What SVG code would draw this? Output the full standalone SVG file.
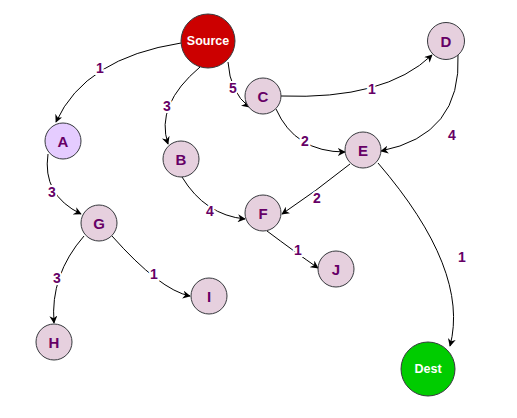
<svg xmlns="http://www.w3.org/2000/svg" width="517" height="418" viewBox="0 0 517 418">
  <style>
    .node { fill: #e6d0de; stroke: #36393d; stroke-width: 1; }
    .node-a { fill: #e5ccff; }
    .src { fill: #cc0000; stroke: #36393d; stroke-width: 1; }
    .dst { fill: #00cc00; stroke: #36393d; stroke-width: 1; }
    .name { font-family: "Liberation Sans", Arial, sans-serif; font-weight: bold; font-size: 15px; fill: #660066; text-anchor: middle; dominant-baseline: central; }
    .name-w { font-family: "Liberation Sans", Arial, sans-serif; font-weight: bold; font-size: 12.5px; fill: #ffffff; text-anchor: middle; dominant-baseline: central; }
    .edge { fill: none; stroke: #000000; stroke-width: 1; marker-end: url(#arrow); }
    .w { font-family: "Liberation Sans", Arial, sans-serif; font-weight: bold; font-size: 14px; fill: #660066; text-anchor: middle; dominant-baseline: central; stroke: #ffffff; stroke-width: 4; paint-order: stroke; }
  </style>
  <defs>
    <marker id="arrow" viewBox="0 0 10 10" refX="9" refY="5" markerWidth="8" markerHeight="8" markerUnits="userSpaceOnUse" orient="auto">
      <path d="M0,0 L10,5 L0,10 L3,5 Z" fill="#000000"/>
    </marker>
  </defs>
  <rect width="517" height="418" fill="#ffffff"/>

  <g id="connectors">
    <path class="edge" d="M181,43 Q85,58 56,122"/>
    <path class="edge" d="M200,67 Q155,105 168,144"/>
    <path class="edge" d="M228,62 Q230,92 249,107"/>
    <path class="edge" d="M281,96 Q385,100 432,55"/>
    <path class="edge" d="M276,109 Q295,152 345,152"/>
    <path class="edge" d="M458,54 Q462,135 381,151"/>
    <path class="edge" d="M350,164 Q315,192 282,214"/>
    <path class="edge" d="M378,163 Q470,270 450,346"/>
    <path class="edge" d="M267,231 Q295,252 318,268"/>
    <path class="edge" d="M182,177 Q205,215 245,219"/>
    <path class="edge" d="M48,154 Q42,195 81,214"/>
    <path class="edge" d="M84,236 Q50,275 54,323"/>
    <path class="edge" d="M112,236 Q160,290 190,296"/>

    <text class="w" x="100" y="68">1</text>
    <text class="w" x="167" y="106">3</text>
    <text class="w" x="233" y="88">5</text>
    <text class="w" x="372" y="89">1</text>
    <text class="w" x="305" y="141">2</text>
    <text class="w" x="452" y="135">4</text>
    <text class="w" x="317" y="198">2</text>
    <text class="w" x="462" y="257">1</text>
    <text class="w" x="298" y="250">1</text>
    <text class="w" x="210" y="211">4</text>
    <text class="w" x="52" y="192">3</text>
    <text class="w" x="57" y="278">3</text>
    <text class="w" x="154" y="274">1</text>
  </g>

  <g id="node-source"><circle class="src" cx="208" cy="41" r="27"/><text class="name-w" x="208" y="41">Source</text></g>
  <g id="node-a"><circle class="node node-a" cx="63" cy="141" r="18"/><text class="name" x="63" y="141">A</text></g>
  <g id="node-b"><circle class="node" cx="181" cy="159" r="18"/><text class="name" x="181" y="159">B</text></g>
  <g id="node-c"><circle class="node" cx="263" cy="96" r="18"/><text class="name" x="263" y="96">C</text></g>
  <g id="node-d"><circle class="node" cx="446" cy="41" r="18.5"/><text class="name" x="446" y="41">D</text></g>
  <g id="node-e"><circle class="node" cx="363" cy="150" r="18"/><text class="name" x="363" y="150">E</text></g>
  <g id="node-f"><circle class="node" cx="263" cy="213" r="18"/><text class="name" x="263" y="213">F</text></g>
  <g id="node-g"><circle class="node" cx="99" cy="223" r="18"/><text class="name" x="99" y="223">G</text></g>
  <g id="node-h"><circle class="node" cx="54" cy="342" r="18"/><text class="name" x="54" y="342">H</text></g>
  <g id="node-i"><circle class="node" cx="209" cy="296" r="18"/><text class="name" x="209" y="296">I</text></g>
  <g id="node-j"><circle class="node" cx="336" cy="269" r="18"/><text class="name" x="336" y="269">J</text></g>
  <g id="node-dest"><circle class="dst" cx="428" cy="369" r="27"/><text class="name-w" x="428" y="369">Dest</text></g>
</svg>
